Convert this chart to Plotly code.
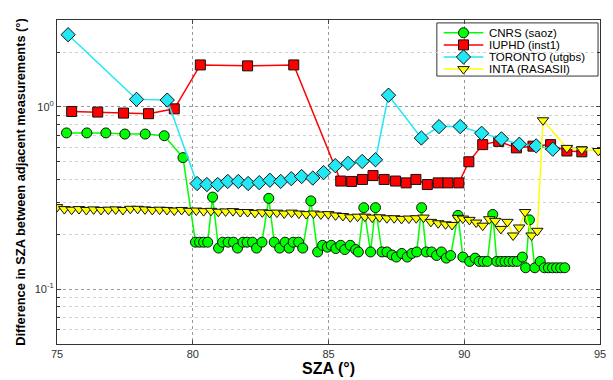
import plotly.graph_objects as go

# ---- data: SZA difference between adjacent measurements ----
cnrs_sza = [75.35, 76.1, 76.8, 77.5, 78.25, 78.95, 79.64, 80.1, 80.25, 80.4,
            80.55, 80.73, 80.95, 81.1, 81.3, 81.5, 81.65, 81.85, 82.0, 82.2,
            82.35, 82.55, 82.8, 83.0, 83.2, 83.4, 83.55, 83.7, 83.9, 84.05,
            84.35, 84.6, 84.78, 84.96, 85.1, 85.27, 85.45, 85.6, 85.8, 86.0,
            86.1, 86.3, 86.55, 86.73, 86.97, 87.15, 87.34, 87.5, 87.7, 87.9,
            88.07, 88.25, 88.43, 88.6, 88.8, 88.98, 89.16, 89.34, 89.5, 89.77,
            89.95, 90.2, 90.4, 90.55, 90.7, 90.85, 91.05, 91.2, 91.35, 91.5,
            91.65, 91.8, 91.95, 92.14, 92.26, 92.4, 92.6, 92.8, 92.95, 93.1,
            93.25, 93.4, 93.55, 93.7]
cnrs_diff = [0.72, 0.72, 0.72, 0.71, 0.71, 0.695, 0.527, 0.181, 0.181, 0.181,
             0.181, 0.32, 0.168, 0.181, 0.181, 0.181, 0.168, 0.181, 0.181, 0.181,
             0.168, 0.181, 0.315, 0.181, 0.168, 0.181, 0.168, 0.181, 0.181, 0.168,
             0.305, 0.16, 0.174, 0.17, 0.174, 0.167, 0.174, 0.165, 0.174, 0.165,
             0.16, 0.28, 0.16, 0.28, 0.16, 0.16, 0.154, 0.15, 0.157, 0.15,
             0.157, 0.16, 0.28, 0.16, 0.16, 0.153, 0.16, 0.148, 0.153, 0.254,
             0.15, 0.142, 0.148, 0.142, 0.142, 0.142, 0.257, 0.142, 0.142, 0.142,
             0.142, 0.142, 0.142, 0.15, 0.131, 0.24, 0.131, 0.142, 0.131, 0.131,
             0.131, 0.131, 0.131, 0.131]

iuphd_sza = [75.54, 76.5, 77.45, 78.37, 79.32, 80.28, 82.02, 83.72, 85.45, 85.85,
             86.25, 86.64, 87.05, 87.47, 87.86, 88.22, 88.64, 89.04, 89.4, 89.8,
             90.17, 90.68, 91.27, 91.92, 92.53, 93.18, 93.78, 94.33]
iuphd_diff = [0.944, 0.937, 0.925, 0.918, 0.976, 1.70, 1.68, 1.70, 0.392, 0.39,
              0.40, 0.42, 0.40, 0.392, 0.383, 0.40, 0.375, 0.383, 0.383, 0.383,
              0.5, 0.621, 0.647, 0.596, 0.609, 0.621, 0.573, 0.567]

toronto_sza = [75.41, 77.93, 79.06, 80.16, 80.52, 80.92, 81.29, 81.68, 82.04, 82.45,
               82.84, 83.24, 83.63, 84.01, 84.42, 84.82, 85.25, 85.72, 86.24, 86.73,
               87.21, 88.42, 89.07, 89.85, 90.64, 91.37, 92.03, 92.65, 93.26]
toronto_diff = [2.49, 1.10, 1.09, 0.38, 0.375, 0.375, 0.39, 0.39, 0.38, 0.384,
                0.396, 0.39, 0.404, 0.415, 0.407, 0.436, 0.476, 0.49, 0.502, 0.513,
                1.16, 0.675, 0.78, 0.78, 0.717, 0.668, 0.624, 0.611, 0.586]

inta_sza = [75.0, 75.27, 75.54, 75.81, 76.08, 76.35, 76.62, 76.89, 77.16, 77.43,
            77.7, 77.97, 78.24, 78.51, 78.78, 79.05, 79.32, 79.59, 79.86, 80.13,
            80.4, 80.67, 80.94, 81.21, 81.48, 81.75, 82.02, 82.29, 82.56, 82.83,
            83.1, 83.37, 83.64, 83.91, 84.18, 84.45, 84.72, 84.99, 85.26, 85.53,
            85.8, 86.07, 86.34, 86.61, 86.88, 87.15, 87.42, 87.69, 87.96, 88.23,
            88.5, 88.77, 89.04, 89.31, 89.55,
            89.77, 89.95, 90.19, 90.44, 90.68, 90.92, 91.14, 91.35, 91.59, 91.8,
            92.02, 92.24, 92.48, 92.69, 92.9, 93.78, 94.33, 94.94]
inta_diff = [0.282, 0.275, 0.273, 0.275, 0.272, 0.274, 0.272, 0.273, 0.274, 0.272,
             0.276, 0.276, 0.274, 0.272, 0.273, 0.272, 0.27, 0.272, 0.269, 0.27,
             0.268, 0.269, 0.266, 0.267, 0.268, 0.265, 0.265, 0.262, 0.264, 0.262,
             0.263, 0.26, 0.263, 0.26, 0.258, 0.26, 0.257, 0.258, 0.254, 0.252,
             0.248, 0.25, 0.25, 0.247, 0.248, 0.245, 0.245, 0.243, 0.244, 0.245,
             0.247, 0.234, 0.23, 0.227, 0.225,
             0.246, 0.244, 0.24, 0.232, 0.223, 0.242, 0.237, 0.214, 0.234, 0.197,
             0.218, 0.265, 0.197, 0.209, 0.845, 0.596, 0.584, 0.573]

series_names = ["CNRS (saoz)", "IUPHD (inst1)", "TORONTO (utgbs)", "INTA (RASASII)"]

x_ticks = [75, 80, 85, 90, 95]
y_ticks = [0.1, 1]
y_tick_text = ["10<sup>-1</sup>", "10<sup>0</sup>"]
y_minor = [0.05, 0.06, 0.07, 0.08, 0.09, 0.2, 0.3, 0.4, 0.5, 0.6, 0.7, 0.8, 0.9, 2, 3]

FONT = "Liberation Sans, Arial, sans-serif"

styles = [
    dict(color="#00ff00", symbol="circle", size=10),
    dict(color="#ff0000", symbol="square", size=10),
    dict(color="#22e8f5", symbol="diamond", size=11),
    dict(color="#ffff00", symbol="triangle-down", size=10),
]
data = [(cnrs_sza, cnrs_diff), (iuphd_sza, iuphd_diff),
        (toronto_sza, toronto_diff), (inta_sza, inta_diff)]

fig = go.Figure()
for (xs, ys), st, name in zip(data, styles, series_names):
    fig.add_trace(go.Scatter(
        x=xs, y=ys, name=name, mode="lines+markers", showlegend=False,
        line=dict(color=st["color"], width=1.5),
        marker=dict(symbol=st["symbol"], size=st["size"], color=st["color"],
                    line=dict(color="#111111", width=1)),
    ))

# ---- compact legend box in the upper right corner ----
lg_x0, lg_x1 = 0.6995, 0.9964
lg_y0, lg_y1 = 0.827, 0.991
row_y = [0.9606, 0.9232, 0.8858, 0.8485]
line_x = [0.7122, 0.7851]
mark_x = 0.7486
text_x = 0.7923

fig.add_shape(type="rect", xref="paper", yref="paper",
              x0=lg_x0, x1=lg_x1, y0=lg_y0, y1=lg_y1,
              line=dict(color="#333333", width=1), fillcolor="white", layer="between")
for ry, st, name in zip(row_y, styles, series_names):
    fig.add_trace(go.Scatter(
        x=line_x, y=[ry, ry], xaxis="x2", yaxis="y2", mode="lines",
        line=dict(color=st["color"], width=1.5), showlegend=False, hoverinfo="skip"))
    fig.add_trace(go.Scatter(
        x=[mark_x], y=[ry], xaxis="x2", yaxis="y2", mode="markers",
        marker=dict(symbol=st["symbol"], size=st["size"], color=st["color"],
                    line=dict(color="#111111", width=1)),
        showlegend=False, hoverinfo="skip"))
    fig.add_annotation(x=text_x, y=ry, xref="paper", yref="paper",
                       text=name, showarrow=False, xanchor="left", yanchor="middle",
                       font=dict(family=FONT, size=11.5, color="#000000"))

grid_col = "#9a9a9a"
fig.update_layout(
    width=613, height=380,
    margin=dict(l=57, r=7, t=20, b=30),
    paper_bgcolor="white", plot_bgcolor="white",
    font=dict(family=FONT, color="#222222"),
    xaxis=dict(
        range=[75, 95], tickvals=x_ticks, ticks="inside", ticklen=4,
        tickfont=dict(size=11, color="#333333"),
        showline=True, linecolor="#333333", linewidth=1, mirror="ticks",
        showgrid=True, gridcolor=grid_col, griddash="dot", gridwidth=1,
        zeroline=False,
        title=dict(text="<b>SZA (°)</b>", font=dict(size=16, color="#000000"), standoff=2),
    ),
    yaxis=dict(
        type="log", range=[-1.301, 0.477],
        tickvals=y_ticks, ticktext=y_tick_text, ticks="inside", ticklen=4,
        tickfont=dict(size=11, color="#333333"),
        showline=True, linecolor="#333333", linewidth=1, mirror="ticks",
        showgrid=True, gridcolor=grid_col, griddash="dot", gridwidth=1,
        minor=dict(tickvals=y_minor, ticks="inside", ticklen=3, tickcolor="#333333",
                   showgrid=True, gridcolor="#d2d2d2", griddash="dot", gridwidth=1),
        zeroline=False,
        title=dict(text="<b>Difference in SZA between adjacent measurements (°)</b>",
                   font=dict(size=12.8, color="#000000"), standoff=6),
    ),
    xaxis2=dict(overlaying="x", range=[0, 1], visible=False, fixedrange=True),
    yaxis2=dict(overlaying="y", range=[0, 1], visible=False, fixedrange=True),
)

fig.write_html("out.html")
